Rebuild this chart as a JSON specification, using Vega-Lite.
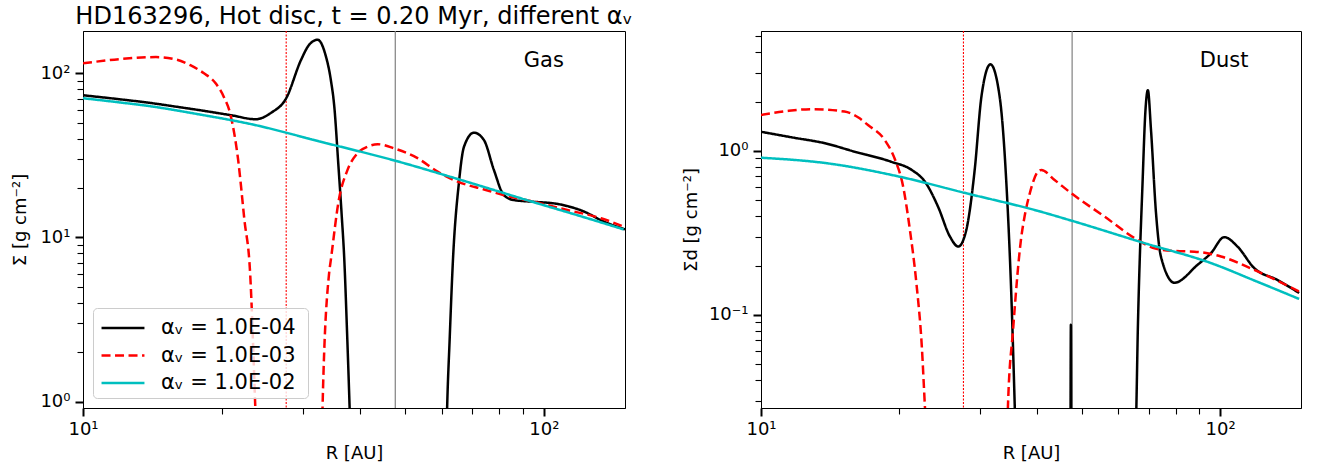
{
  "$schema": "https://vega.github.io/schema/vega-lite/v6.json",
  "background": "white",
  "padding": {"left": 11, "top": 4, "right": 10, "bottom": 5},
  "bounds": "flush",
  "spacing": 136,
  "config": {
    "font": "DejaVu Sans",
    "view": {"stroke": "#000000", "strokeWidth": 1},
    "axis": {
      "grid": false,
      "domainColor": "#000000",
      "domainWidth": 1,
      "tickColor": "#000000",
      "labelColor": "#000000",
      "titleColor": "#000000",
      "labelFontSize": 18,
      "titleFontSize": 18,
      "titleFontWeight": "normal",
      "labelOverlap": false,
      "labelFlush": false,
      "labelBound": false
    },
    "title": {"fontSize": 24, "fontWeight": "normal", "color": "#000000"}
  },
  "datasets": {
    "gas": [
      {"a": "1.0E-04", "R": 10, "S": 73.5},
      {"a": "1.0E-04", "R": 12, "S": 69.5},
      {"a": "1.0E-04", "R": 14, "S": 66},
      {"a": "1.0E-04", "R": 16, "S": 62.5},
      {"a": "1.0E-04", "R": 18, "S": 59.5},
      {"a": "1.0E-04", "R": 21, "S": 55.5},
      {"a": "1.0E-04", "R": 23.7, "S": 52.5},
      {"a": "1.0E-04", "R": 25.6, "S": 57.5},
      {"a": "1.0E-04", "R": 27.6, "S": 70.5},
      {"a": "1.0E-04", "R": 29.7, "S": 120},
      {"a": "1.0E-04", "R": 31.0, "S": 150},
      {"a": "1.0E-04", "R": 32.3, "S": 160},
      {"a": "1.0E-04", "R": 33.6, "S": 129},
      {"a": "1.0E-04", "R": 34.5, "S": 91},
      {"a": "1.0E-04", "R": 35.1, "S": 62.6},
      {"a": "1.0E-04", "R": 35.8, "S": 28.3},
      {"a": "1.0E-04", "R": 36.4, "S": 14},
      {"a": "1.0E-04", "R": 36.9, "S": 7.3},
      {"a": "1.0E-04", "R": 37.4, "S": 2.7},
      {"a": "1.0E-04", "R": 37.95, "S": 0.8},
      {"a": "1.0E-04", "R": 38.5, "S": 0.2},
      {"a": "1.0E-04", "R": 41, "S": 0.01},
      {"a": "1.0E-04", "R": 58, "S": 0.01},
      {"a": "1.0E-04", "R": 61, "S": 0.2},
      {"a": "1.0E-04", "R": 61.6, "S": 0.8},
      {"a": "1.0E-04", "R": 62.5, "S": 2.5},
      {"a": "1.0E-04", "R": 63.5, "S": 7.3},
      {"a": "1.0E-04", "R": 65.4, "S": 21.4},
      {"a": "1.0E-04", "R": 67.1, "S": 35.7},
      {"a": "1.0E-04", "R": 70.5, "S": 43.5},
      {"a": "1.0E-04", "R": 74.1, "S": 39.3},
      {"a": "1.0E-04", "R": 77.9, "S": 25.8},
      {"a": "1.0E-04", "R": 81.9, "S": 18.1},
      {"a": "1.0E-04", "R": 86.1, "S": 16.9},
      {"a": "1.0E-04", "R": 95.1, "S": 16.5},
      {"a": "1.0E-04", "R": 107.2, "S": 16.0},
      {"a": "1.0E-04", "R": 122.1, "S": 14.4},
      {"a": "1.0E-04", "R": 135, "S": 12.5},
      {"a": "1.0E-04", "R": 150, "S": 11.2},
      {"a": "1.0E-03", "R": 10, "S": 115},
      {"a": "1.0E-03", "R": 12, "S": 122},
      {"a": "1.0E-03", "R": 14.4, "S": 125.5},
      {"a": "1.0E-03", "R": 16, "S": 121},
      {"a": "1.0E-03", "R": 17.1, "S": 112},
      {"a": "1.0E-03", "R": 18.3, "S": 100},
      {"a": "1.0E-03", "R": 19.4, "S": 87},
      {"a": "1.0E-03", "R": 20.2, "S": 72},
      {"a": "1.0E-03", "R": 20.9, "S": 55.7},
      {"a": "1.0E-03", "R": 21.7, "S": 30},
      {"a": "1.0E-03", "R": 22.4, "S": 12.8},
      {"a": "1.0E-03", "R": 23.05, "S": 6.05},
      {"a": "1.0E-03", "R": 23.65, "S": 0.93},
      {"a": "1.0E-03", "R": 24.1, "S": 0.2},
      {"a": "1.0E-03", "R": 26, "S": 0.005},
      {"a": "1.0E-03", "R": 31, "S": 0.005},
      {"a": "1.0E-03", "R": 32.8, "S": 0.2},
      {"a": "1.0E-03", "R": 33.1, "S": 0.93},
      {"a": "1.0E-03", "R": 34.2, "S": 6.05},
      {"a": "1.0E-03", "R": 34.5, "S": 7.3},
      {"a": "1.0E-03", "R": 35.9, "S": 16.9},
      {"a": "1.0E-03", "R": 37.5, "S": 25.8},
      {"a": "1.0E-03", "R": 39.4, "S": 32.6},
      {"a": "1.0E-03", "R": 41.5, "S": 35.8},
      {"a": "1.0E-03", "R": 43.6, "S": 37.0},
      {"a": "1.0E-03", "R": 47.3, "S": 34.9},
      {"a": "1.0E-03", "R": 53.2, "S": 30.4},
      {"a": "1.0E-03", "R": 58.8, "S": 25.2},
      {"a": "1.0E-03", "R": 65.0, "S": 21.9},
      {"a": "1.0E-03", "R": 74.2, "S": 19.6},
      {"a": "1.0E-03", "R": 81.9, "S": 18.1},
      {"a": "1.0E-03", "R": 95.2, "S": 16.5},
      {"a": "1.0E-03", "R": 112.4, "S": 14.7},
      {"a": "1.0E-03", "R": 133, "S": 13.1},
      {"a": "1.0E-03", "R": 149.4, "S": 11.6},
      {"a": "1.0E-02", "R": 10, "S": 70.5},
      {"a": "1.0E-02", "R": 12, "S": 66.5},
      {"a": "1.0E-02", "R": 14, "S": 63},
      {"a": "1.0E-02", "R": 18, "S": 56},
      {"a": "1.0E-02", "R": 23.1, "S": 49.1},
      {"a": "1.0E-02", "R": 32.8, "S": 38.3},
      {"a": "1.0E-02", "R": 47.7, "S": 29.3},
      {"a": "1.0E-02", "R": 66.1, "S": 22.4},
      {"a": "1.0E-02", "R": 95.1, "S": 16.4},
      {"a": "1.0E-02", "R": 120, "S": 13.5},
      {"a": "1.0E-02", "R": 149, "S": 11.2}
    ],
    "dust": [
      {"a": "1.0E-04", "R": 10, "S": 1.31},
      {"a": "1.0E-04", "R": 11.7, "S": 1.21},
      {"a": "1.0E-04", "R": 13.8, "S": 1.114},
      {"a": "1.0E-04", "R": 16, "S": 0.99},
      {"a": "1.0E-04", "R": 19.2, "S": 0.86},
      {"a": "1.0E-04", "R": 21.3, "S": 0.766},
      {"a": "1.0E-04", "R": 22.75, "S": 0.65},
      {"a": "1.0E-04", "R": 24.3, "S": 0.457},
      {"a": "1.0E-04", "R": 25.8, "S": 0.30},
      {"a": "1.0E-04", "R": 26.9, "S": 0.261},
      {"a": "1.0E-04", "R": 28.0, "S": 0.33},
      {"a": "1.0E-04", "R": 29.2, "S": 0.766},
      {"a": "1.0E-04", "R": 30.2, "S": 2.14},
      {"a": "1.0E-04", "R": 31.6, "S": 3.38},
      {"a": "1.0E-04", "R": 33.1, "S": 2.14},
      {"a": "1.0E-04", "R": 34.2, "S": 0.665},
      {"a": "1.0E-04", "R": 35.1, "S": 0.129},
      {"a": "1.0E-04", "R": 35.7, "S": 0.0276},
      {"a": "1.0E-04", "R": 36.3, "S": 0.005},
      {"a": "1.0E-04", "R": 40, "S": 0.001},
      {"a": "1.0E-04", "R": 47.1, "S": 0.001},
      {"a": "1.0E-04", "R": 47.3, "S": 0.087},
      {"a": "1.0E-04", "R": 47.5, "S": 0.001},
      {"a": "1.0E-04", "R": 60, "S": 0.001},
      {"a": "1.0E-04", "R": 65.5, "S": 0.02},
      {"a": "1.0E-04", "R": 66.2, "S": 0.085},
      {"a": "1.0E-04", "R": 67.8, "S": 0.665},
      {"a": "1.0E-04", "R": 68.7, "S": 1.7},
      {"a": "1.0E-04", "R": 69.6, "S": 2.35},
      {"a": "1.0E-04", "R": 70.7, "S": 1.34},
      {"a": "1.0E-04", "R": 72.5, "S": 0.417},
      {"a": "1.0E-04", "R": 74.3, "S": 0.227},
      {"a": "1.0E-04", "R": 79.5, "S": 0.157},
      {"a": "1.0E-04", "R": 89.3, "S": 0.202},
      {"a": "1.0E-04", "R": 95.5, "S": 0.238},
      {"a": "1.0E-04", "R": 102.1, "S": 0.298},
      {"a": "1.0E-04", "R": 109.1, "S": 0.261},
      {"a": "1.0E-04", "R": 118.6, "S": 0.193},
      {"a": "1.0E-04", "R": 133.4, "S": 0.163},
      {"a": "1.0E-04", "R": 148.6, "S": 0.136},
      {"a": "1.0E-03", "R": 10, "S": 1.66},
      {"a": "1.0E-03", "R": 11.5, "S": 1.76},
      {"a": "1.0E-03", "R": 12.9, "S": 1.8},
      {"a": "1.0E-03", "R": 15.2, "S": 1.74},
      {"a": "1.0E-03", "R": 16.3, "S": 1.6},
      {"a": "1.0E-03", "R": 17.1, "S": 1.44},
      {"a": "1.0E-03", "R": 18.6, "S": 1.167},
      {"a": "1.0E-03", "R": 19.6, "S": 0.881},
      {"a": "1.0E-03", "R": 20.4, "S": 0.606},
      {"a": "1.0E-03", "R": 21.1, "S": 0.33},
      {"a": "1.0E-03", "R": 21.8, "S": 0.156},
      {"a": "1.0E-03", "R": 22.4, "S": 0.064},
      {"a": "1.0E-03", "R": 22.75, "S": 0.0276},
      {"a": "1.0E-03", "R": 23.2, "S": 0.01},
      {"a": "1.0E-03", "R": 25, "S": 0.001},
      {"a": "1.0E-03", "R": 33, "S": 0.001},
      {"a": "1.0E-03", "R": 34.2, "S": 0.01},
      {"a": "1.0E-03", "R": 34.5, "S": 0.0276},
      {"a": "1.0E-03", "R": 35.4, "S": 0.081},
      {"a": "1.0E-03", "R": 36.9, "S": 0.30},
      {"a": "1.0E-03", "R": 37.5, "S": 0.398},
      {"a": "1.0E-03", "R": 38.5, "S": 0.552},
      {"a": "1.0E-03", "R": 40.1, "S": 0.748},
      {"a": "1.0E-03", "R": 40.8, "S": 0.766},
      {"a": "1.0E-03", "R": 43.6, "S": 0.665},
      {"a": "1.0E-03", "R": 47.4, "S": 0.552},
      {"a": "1.0E-03", "R": 56.0, "S": 0.398},
      {"a": "1.0E-03", "R": 65.1, "S": 0.294},
      {"a": "1.0E-03", "R": 71.9, "S": 0.255},
      {"a": "1.0E-03", "R": 80, "S": 0.245},
      {"a": "1.0E-03", "R": 87.9, "S": 0.243},
      {"a": "1.0E-03", "R": 100.4, "S": 0.227},
      {"a": "1.0E-03", "R": 118.6, "S": 0.188},
      {"a": "1.0E-03", "R": 148.6, "S": 0.139},
      {"a": "1.0E-02", "R": 10, "S": 0.91},
      {"a": "1.0E-02", "R": 14, "S": 0.84},
      {"a": "1.0E-02", "R": 19.9, "S": 0.70},
      {"a": "1.0E-02", "R": 28, "S": 0.552},
      {"a": "1.0E-02", "R": 40.1, "S": 0.431},
      {"a": "1.0E-02", "R": 47.4, "S": 0.376},
      {"a": "1.0E-02", "R": 68.4, "S": 0.274},
      {"a": "1.0E-02", "R": 95.5, "S": 0.207},
      {"a": "1.0E-02", "R": 120, "S": 0.16},
      {"a": "1.0E-02", "R": 148.6, "S": 0.125}
    ]
  },
  "resolve": {"scale": {"color": "independent", "strokeDash": "independent"}, "legend": {"color": "independent", "strokeDash": "independent"}},
  "hconcat": [
    {
      "width": 542,
      "height": 377,
      "title": {"text": "HD163296, Hot disc, t = 0.20 Myr, different αᵥ", "anchor": "middle", "offset": 1},
      "layer": [
        {
          "data": {"values": [{}]},
          "mark": {"type": "rule", "color": "#ff0000", "strokeWidth": 1.1, "strokeDash": [2, 1.5]},
          "encoding": {"x": {"datum": 27.6, "type": "quantitative"}}
        },
        {
          "data": {"values": [{}]},
          "mark": {"type": "rule", "color": "#808080", "strokeWidth": 1.2},
          "encoding": {"x": {"datum": 47.6, "type": "quantitative"}}
        },
        {
          "data": {"name": "gas"},
          "mark": {"type": "line", "clip": true, "strokeWidth": 2.5, "interpolate": "monotone"},
          "encoding": {
            "x": {
              "field": "R", "type": "quantitative",
              "scale": {"type": "log", "domain": [10, 150], "nice": false},
              "axis": {
                "title": "R [AU]",
                "values": [10, 20, 30, 40, 50, 60, 70, 80, 90, 100],
                "labelExpr": "datum.value==10?'10¹':datum.value==100?'10²':''",
                "tickSize": {"condition": {"test": "datum.value==10||datum.value==100", "value": 8}, "value": 6},
                "tickWidth": {"condition": {"test": "datum.value==10||datum.value==100", "value": 2}, "value": 1.1},
                "labelPadding": 4,
                "titlePadding": 6
              }
            },
            "y": {
              "field": "S", "type": "quantitative",
              "scale": {"type": "log", "domain": [0.915, 181], "nice": false},
              "axis": {
                "title": "Σ [g cm⁻²]",
                "values": [1, 2, 3, 4, 5, 6, 7, 8, 9, 10, 20, 30, 40, 50, 60, 70, 80, 90, 100],
                "labelExpr": "datum.value==1?'10⁰':datum.value==10?'10¹':datum.value==100?'10²':''",
                "tickSize": {"condition": {"test": "datum.value==1||datum.value==10||datum.value==100", "value": 8}, "value": 6},
                "tickWidth": {"condition": {"test": "datum.value==1||datum.value==10||datum.value==100", "value": 2}, "value": 1.1},
                "labelPadding": 5,
                "titlePadding": 10
              }
            },
            "color": {
              "field": "a", "type": "nominal",
              "scale": {"domain": ["1.0E-04", "1.0E-03", "1.0E-02"], "range": ["#000000", "#ff0000", "#00bfbf"]},
              "legend": {
                "title": null,
                "orient": "bottom-left",
                "offset": 10,
                "labelExpr": "'αᵥ =  ' + datum.label",
                "labelFontSize": 21,
                "labelColor": "#000000",
                "symbolType": "M-0.85,0H2.33",
                "symbolSize": 729,
                "symbolStrokeWidth": 2.5,
                "labelOffset": 33,
                "padding": 5,
                "rowPadding": 2.5,
                "strokeColor": "#cccccc",
                "fillColor": "rgba(255,255,255,0.8)",
                "cornerRadius": 4
              }
            },
            "strokeDash": {
              "field": "a", "type": "nominal",
              "scale": {"domain": ["1.0E-04", "1.0E-03", "1.0E-02"], "range": [[1, 0], [9, 4.5], [1, 0]]},
              "legend": {
                "title": null,
                "orient": "bottom-left",
                "offset": 10,
                "labelExpr": "'αᵥ =  ' + datum.label",
                "labelFontSize": 21,
                "labelColor": "#000000",
                "symbolType": "M-0.85,0H2.33",
                "symbolSize": 729,
                "symbolStrokeWidth": 2.5,
                "labelOffset": 33,
                "padding": 5,
                "rowPadding": 2.5,
                "strokeColor": "#cccccc",
                "fillColor": "rgba(255,255,255,0.8)",
                "cornerRadius": 4
              }
            }
          }
        },
        {
          "data": {"values": [{}]},
          "mark": {"type": "text", "fontSize": 21, "align": "center", "baseline": "middle", "color": "#000000"},
          "encoding": {
            "x": {"datum": 100, "type": "quantitative"},
            "y": {"datum": 119, "type": "quantitative"},
            "text": {"value": "Gas"}
          }
        }
      ]
    },
    {
      "width": 540,
      "height": 377,
      "layer": [
        {
          "data": {"values": [{}]},
          "mark": {"type": "rule", "color": "#ff0000", "strokeWidth": 1.1, "strokeDash": [2, 1.5]},
          "encoding": {"x": {"datum": 27.6, "type": "quantitative"}}
        },
        {
          "data": {"values": [{}]},
          "mark": {"type": "rule", "color": "#808080", "strokeWidth": 1.2},
          "encoding": {"x": {"datum": 47.6, "type": "quantitative"}}
        },
        {
          "data": {"name": "dust"},
          "mark": {"type": "line", "clip": true, "strokeWidth": 2.5, "interpolate": "monotone"},
          "encoding": {
            "x": {
              "field": "R", "type": "quantitative",
              "scale": {"type": "log", "domain": [10, 150], "nice": false},
              "axis": {
                "title": "R [AU]",
                "values": [10, 20, 30, 40, 50, 60, 70, 80, 90, 100],
                "labelExpr": "datum.value==10?'10¹':datum.value==100?'10²':''",
                "tickSize": {"condition": {"test": "datum.value==10||datum.value==100", "value": 8}, "value": 6},
                "tickWidth": {"condition": {"test": "datum.value==10||datum.value==100", "value": 2}, "value": 1.1},
                "labelPadding": 4,
                "titlePadding": 6
              }
            },
            "y": {
              "field": "S", "type": "quantitative",
              "scale": {"type": "log", "domain": [0.027, 5.4], "nice": false},
              "axis": {
                "title": "Σd [g cm⁻²]",
                "values": [0.03, 0.04, 0.05, 0.06, 0.07, 0.08, 0.09, 0.1, 0.2, 0.3, 0.4, 0.5, 0.6, 0.7, 0.8, 0.9, 1, 2, 3, 4, 5],
                "labelExpr": "datum.value==0.1?'10⁻¹':datum.value==1?'10⁰':''",
                "tickSize": {"condition": {"test": "datum.value==0.1||datum.value==1", "value": 8}, "value": 6},
                "tickWidth": {"condition": {"test": "datum.value==0.1||datum.value==1", "value": 2}, "value": 1.1},
                "labelPadding": 5,
                "titlePadding": 8
              }
            },
            "color": {
              "field": "a", "type": "nominal",
              "scale": {"domain": ["1.0E-04", "1.0E-03", "1.0E-02"], "range": ["#000000", "#ff0000", "#00bfbf"]},
              "legend": null
            },
            "strokeDash": {
              "field": "a", "type": "nominal",
              "scale": {"domain": ["1.0E-04", "1.0E-03", "1.0E-02"], "range": [[1, 0], [9, 4.5], [1, 0]]},
              "legend": null
            }
          }
        },
        {
          "data": {"values": [{}]},
          "mark": {"type": "text", "fontSize": 21, "align": "center", "baseline": "middle", "color": "#000000"},
          "encoding": {
            "x": {"datum": 102, "type": "quantitative"},
            "y": {"datum": 3.55, "type": "quantitative"},
            "text": {"value": "Dust"}
          }
        }
      ]
    }
  ]
}
